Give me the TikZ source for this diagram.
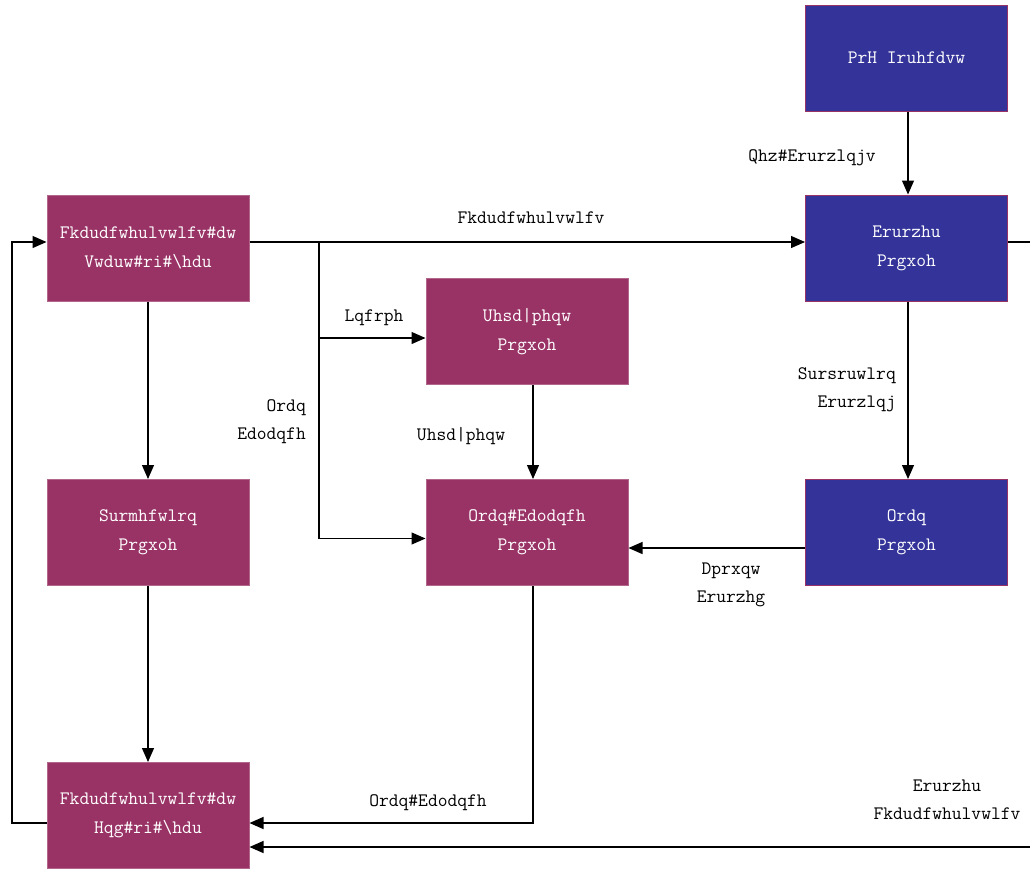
\documentclass[tikz,border=0pt]{standalone}
\usepackage{fontspec}
\usetikzlibrary{arrows.meta}
\definecolor{plum}{HTML}{993366}
\definecolor{navy}{HTML}{333399}
\tikzset{
  mbox/.style={draw=plum!75!white, fill=plum, line width=1pt,
    minimum width=202pt, minimum height=106pt, inner sep=0pt,
    text=white, align=center, font=\ttfamily\fontsize{19}{29}\selectfont},
  bbox/.style={mbox, fill=navy, draw=plum},
  link/.style={line width=1.2pt, -{Triangle[length=14pt,width=12pt]}},
  lbl/.style={font=\ttfamily\fontsize{19}{28}\selectfont, align=center, inner sep=0pt}
}
\begin{document}
\begin{tikzpicture}[x=1pt,y=-1pt]
  \useasboundingbox (0,0) rectangle (1030,870);
  \clip (0,0) rectangle (1030,870);

  % model blocks
  \node[mbox] (A) at (148,248)   {Fkdudfwhulvwlfv\#dw\\Vwduw\#ri\#\textbackslash hdu};
  \node[mbox] (B) at (148,532.5) {Surmhfwlrq\\Prgxoh};
  \node[mbox] (C) at (148,815.5) {Fkdudfwhulvwlfv\#dw\\Hqg\#ri\#\textbackslash hdu};
  \node[mbox] (D) at (527,331.5) {Uhsd|phqw\\Prgxoh};
  \node[mbox] (E) at (527,532.5) {Ordq\#Edodqfh\\Prgxoh};
  \node[bbox] (F) at (906.5,58)   {PrH Iruhfdvw};
  \node[bbox] (G) at (906.5,248)  {Erurzhu\\Prgxoh};
  \node[bbox] (H) at (906.5,532.5){Ordq\\Prgxoh};

  % routing points
  \coordinate (b1) at (319,242);
  \coordinate (b2) at (319,338);
  \coordinate (e1) at (533,823);
  \coordinate (r1) at (1045,242);
  \coordinate (r2) at (1045,847);
  \coordinate (l1) at (12,823);
  \coordinate (l2) at (12,242);

  % connectors
  \draw[link] ([yshift=6pt]A.east) -- ([yshift=6pt]G.west);
  \draw[link] (b1) |- ([yshift=-6pt]E.west);
  \draw[link] (b2) -- (b2 -| D.west);
  \draw[link] ([xshift=6pt]D.south) -- ([xshift=6pt]E.north);
  \draw[link] ([xshift=1.5pt]F.south) -- ([xshift=1.5pt]G.north);
  \draw[link] ([xshift=1.5pt]G.south) -- ([xshift=1.5pt]H.north);
  \draw[link] ([yshift=-15.5pt]H.west) -- ([yshift=-15.5pt]E.east);
  \draw[link] ([yshift=6pt]G.east) -- (r1) -- (r2) -- (r2 -| C.east);
  \draw[link] (e1 |- E.south) -- (e1) -- (e1 -| C.east);
  \draw[link] (A.south) -- (B.north);
  \draw[link] (B.south) -- (C.north);
  \draw[link] (l1 -| C.west) -- (l1) -- (l2) -- (l2 -| A.west);

  % connector labels
  \node[lbl] (t1) at (531,218) {Fkdudfwhulvwlfv};
  \node[lbl] (t2) at (374,318) {Lqfrph};
  \node[lbl, align=right, anchor=east] (t3) at (306,422) {Ordq\\Edodqfh};
  \node[lbl] (t4) at (461,436) {Uhsd|phqw};
  \node[lbl] (t5) at (812,158) {Qhz\#Erurzlqjv};
  \node[lbl, align=right, anchor=east] (t6) at (896,390) {Sursruwlrq\\Erurzlqj};
  \node[lbl] (t7) at (731,585) {Dprxqw\\Erurzhg};
  \node[lbl] (t8) at (428,803) {Ordq\#Edodqfh};
  \node[lbl] (t9) at (947,800) {Erurzhu\\Fkdudfwhulvwlfv};
\end{tikzpicture}
\end{document}
